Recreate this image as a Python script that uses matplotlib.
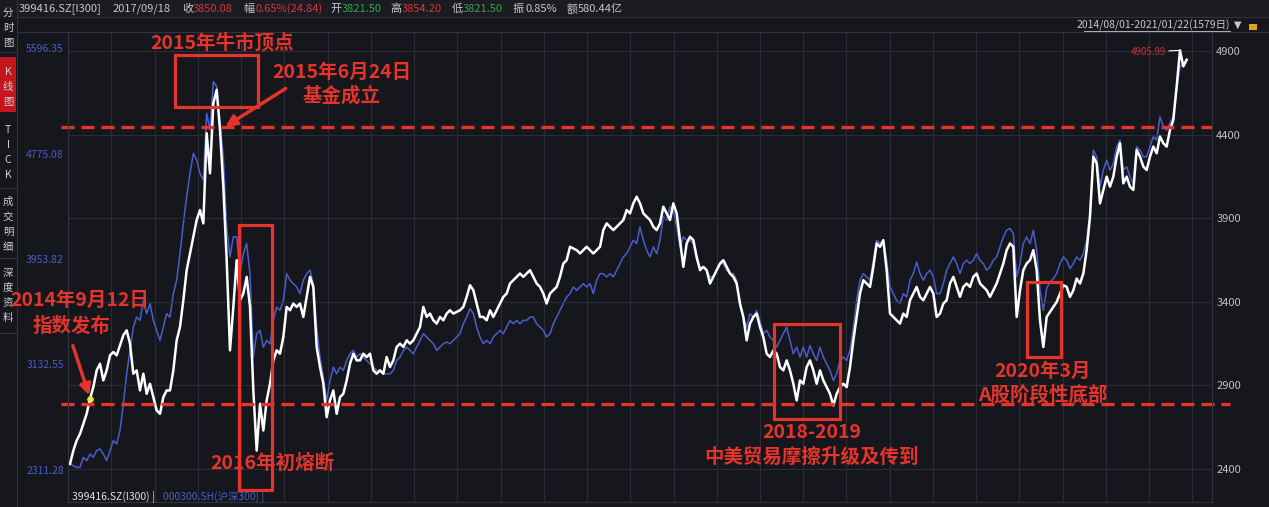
import numpy as np
import matplotlib
matplotlib.use("Agg")
import matplotlib.pyplot as plt
from matplotlib.patches import Rectangle, FancyArrowPatch

W, H = 1269, 507
BG = '#15171d'
GRID = '#2a2d35'
RED = '#e5342b'
BLUE = '#4a5dc8'
plt.rcParams['font.family'] = ['Noto Sans CJK SC', 'DejaVu Sans']

i300 = [
    2430, 2510, 2570, 2610, 2670, 2730, 2820, 2890, 2990, 3030,
    2930, 2990, 3080, 3100, 3080, 3140, 3200, 3230, 3150, 2970,
    2990, 2870, 2970, 2850, 2910, 2830, 2750, 2730, 2830, 2870,
    2870, 2990, 3170, 3250, 3410, 3590, 3690, 3790, 3890, 3950,
    3870, 4410, 4170, 4590, 4670, 4430, 4090, 3650, 3110, 3370,
    3650, 3410, 3450, 3550, 3370, 2870, 2510, 2790, 2630, 2810,
    2910, 3050, 3110, 3090, 3190, 3370, 3350, 3390, 3370, 3390,
    3310, 3430, 3550, 3490, 3130, 3010, 2910, 2710, 2810, 2870,
    2730, 2830, 2850, 2930, 3030, 3090, 3050, 3050,
    3090, 3070, 3090, 2990, 2970, 2990, 2970, 3070, 3010, 3050,
    3130, 3150, 3130, 3170, 3150, 3170, 3210, 3250, 3370, 3310,
    3330, 3290, 3270, 3310, 3290, 3330, 3350, 3330, 3340, 3350,
    3370, 3430, 3500, 3470, 3390, 3310, 3310, 3290, 3350, 3310,
    3350, 3390, 3430, 3450, 3510, 3530, 3550, 3570, 3550, 3570,
    3590, 3550, 3510, 3490, 3450, 3390, 3450, 3470, 3490, 3550,
    3630, 3650, 3730, 3720, 3710, 3690, 3710, 3730, 3710, 3690,
    3710, 3730, 3830, 3870, 3850, 3830, 3850, 3870, 3890, 3950,
    3930, 3990, 4030, 3990, 3930, 3910, 3890,
    3850, 3830, 3870, 3970, 3930, 3890, 3990, 3930, 3770, 3610,
    3750, 3790, 3770, 3670, 3590, 3610, 3590, 3510, 3550, 3590,
    3630, 3650, 3610, 3570, 3550, 3510, 3390, 3310, 3170, 3270,
    3310, 3330, 3250, 3190, 3090, 3070, 3110, 3090, 3010, 2990,
    3050, 2990, 2910, 2810, 2930, 2910, 3010, 3050, 2990, 2910,
    2990, 2930, 2890, 2850, 2780, 2850, 2890, 2910, 2890, 3010,
    3170, 3310, 3450, 3530, 3510, 3490, 3610, 3750, 3730, 3770,
    3590, 3330, 3310, 3290, 3270, 3330, 3310, 3410, 3450, 3490,
    3430, 3410, 3450, 3490, 3450, 3310, 3330,
    3390, 3410, 3510, 3550, 3490, 3430, 3490, 3510, 3490, 3550,
    3570, 3510, 3490, 3470, 3430, 3470, 3510, 3570, 3630, 3710,
    3750, 3730, 3310, 3470, 3590, 3630, 3650, 3710, 3590, 3290,
    3130, 3310, 3340, 3370, 3400, 3450, 3500, 3490, 3430, 3470,
    3540, 3510, 3570, 3710, 3910, 4270, 4230, 3990, 4070, 4150,
    4090, 4150, 4270, 4350, 4110, 4150, 4090, 4070, 4310, 4270,
    4210, 4190, 4270, 4330, 4290, 4390, 4350, 4330, 4430, 4490,
    4690, 4905.99, 4810, 4850,
]

# 000300.SH (沪深300) on the same dates, left scale
hs300 = [
    2358, 2345, 2332, 2332, 2410, 2384, 2436, 2410, 2462, 2475,
    2436, 2384, 2462, 2540, 2514, 2618, 2826, 3060, 3242, 3424,
    3502, 3476, 3632, 3528, 3606, 3476, 3398, 3320, 3424, 3528,
    3502, 3684, 3788, 3996, 4230, 4438, 4620, 4776, 4724, 4620,
    4568, 5088, 4958, 5335, 5296, 5010, 4750, 4204, 3970, 4126,
    4126, 3840, 3996, 4074, 3840, 3190, 3372, 3398, 3268, 3320,
    3294, 3476, 3580, 3554, 3632, 3840, 3788, 3762, 3736, 3684,
    3788, 3840, 3866, 3762, 3424, 3190, 3034, 2852, 3008, 3112,
    3060, 3112, 3086, 3164, 3216, 3242, 3190, 3216,
    3190, 3164, 3138, 3112, 3086, 3086, 3060, 3060, 3060, 3086,
    3164, 3190, 3242, 3268, 3242, 3216, 3268, 3320, 3372, 3346,
    3320, 3294, 3242, 3268, 3294, 3307, 3294, 3320, 3346, 3372,
    3450, 3502, 3567, 3528, 3424, 3346, 3294, 3320, 3294, 3346,
    3372, 3398, 3372, 3424, 3476, 3450, 3476, 3450, 3476, 3476,
    3502, 3502, 3450, 3424, 3398, 3346, 3372, 3450, 3502, 3554,
    3606, 3658, 3684, 3736, 3710, 3736, 3762, 3736, 3762, 3684,
    3788, 3840, 3840, 3814, 3840, 3814, 3866, 3918, 3970, 3996,
    4048, 4100, 4074, 4204, 4100, 4022, 3970,
    4048, 3996, 4100, 4282, 4256, 4360, 4334, 4204, 4048, 4126,
    4100, 4100, 4074, 3944, 3892, 3892, 3866, 3814, 3814, 3866,
    3918, 3918, 3866, 3840, 3840, 3788, 3580, 3502, 3424, 3528,
    3502, 3554, 3476, 3372, 3398, 3346, 3320, 3268, 3320, 3372,
    3424, 3320, 3216, 3268, 3190, 3268, 3190, 3281, 3216, 3164,
    3268, 3190, 3138, 3086, 3008, 3060, 3164, 3190, 3164, 3242,
    3424, 3632, 3788, 3840, 3814, 3788, 3944, 4100, 4074, 4100,
    3944, 3736, 3684, 3632, 3606, 3684, 3658, 3788, 3840, 3931,
    3840, 3788, 3840, 3866, 3814, 3684, 3684,
    3762, 3866, 3918, 3970, 3918, 3840, 3918, 3944, 3918, 3944,
    3996, 3944, 3918, 3866, 3892, 3944, 3970, 4048, 4126, 4178,
    4191, 4152, 3814, 3918, 4074, 4126, 4074, 4178, 4022, 3710,
    3554, 3723, 3775, 3801, 3840, 3918, 3970, 3944, 3879, 3918,
    3970, 3944, 3996, 4100, 4334, 4802, 4750, 4516, 4646, 4724,
    4646, 4698, 4828, 4880, 4646, 4672, 4594, 4542, 4828, 4802,
    4750, 4750, 4828, 4906, 4880, 5062, 4984, 4958, 5010, 5062,
    5270, 5452, 5478, 5504,
]

right_ticks = [4900, 4400, 3900, 3400, 2900, 2400]
left_ticks = [5596.35, 4775.08, 3953.82, 3132.55, 2311.28]
top_level = 4450      # fund launch level
bottom_level = 2790   # support level
start_mark = 6        # sample at 2014-09-12


def fx(x):
    return x / W


def fy(y):
    return 1 - y / H


fig = plt.figure(figsize=(W / 100, H / 100), dpi=100, facecolor=BG)

# header rows and side bar
fig.add_artist(Rectangle((0, fy(17)), 1, 17 / H, transform=fig.transFigure,
                         fc='#1a1c22', ec='none'))
for y in (17, 32):
    fig.add_artist(plt.Line2D([fx(17), 1], [fy(y), fy(y)], transform=fig.transFigure,
                              color='#30333b', lw=0.8))
fig.add_artist(plt.Line2D([fx(17), fx(17)], [0, 1], transform=fig.transFigure,
                          color='#30333b', lw=0.8))
fig.add_artist(Rectangle((0, fy(112)), 16 / W, 55 / H, transform=fig.transFigure,
                         fc='#c4161c', ec='none'))
side = [('分', 13), ('时', 28), ('图', 43), ('K', 72), ('线', 87), ('图', 102),
        ('T', 130), ('I', 145), ('C', 160), ('K', 175),
        ('成', 202), ('交', 217), ('明', 232), ('细', 247),
        ('深', 273), ('度', 288), ('资', 303), ('料', 318)]
for ch, y in side:
    fig.text(fx(8), fy(y), ch, color='#d0d0d0', fontsize=7.5, ha='center', va='center')
for y in (52, 188, 258, 333):
    fig.add_artist(plt.Line2D([0, fx(17)], [fy(y), fy(y)], transform=fig.transFigure,
                              color='#30333b', lw=0.8))

head = [(19, '399416.SZ[I300]', '#c8c8c8'), (113, '2017/09/18', '#c8c8c8'),
        (182, '收', '#c8c8c8'), (193, '3850.08', '#d9343c'),
        (243, '幅', '#c8c8c8'), (255, '0.65%(24.84)', '#d9343c'),
        (330, '开', '#c8c8c8'), (342, '3821.50', '#2ea44f'),
        (390, '高', '#c8c8c8'), (402, '3854.20', '#d9343c'),
        (452, '低', '#c8c8c8'), (463, '3821.50', '#2ea44f'),
        (513, '振', '#c8c8c8'), (525, '0.85%', '#c8c8c8'),
        (567, '额', '#c8c8c8'), (578, '580.44亿', '#c8c8c8')]
for x, s, c in head:
    fig.text(fx(x), fy(9), s, color=c, fontsize=8, ha='left', va='center')

fig.text(fx(1230), fy(25), '2014/08/01-2021/01/22(1579日)', color='#c8c8c8',
         fontsize=7.5, ha='right', va='center')
fig.add_artist(plt.Line2D([fx(1084), fx(1230)], [fy(31), fy(31)], transform=fig.transFigure,
                          color='#c8c8c8', lw=0.6))
fig.text(fx(1238), fy(25), '▼', color='#c8c8c8', fontsize=7, ha='center', va='center',
         family='DejaVu Sans')
fig.add_artist(Rectangle((fx(1249), fy(30)), 8 / W, 6 / H, transform=fig.transFigure,
                         fc='#e3a21a', ec='none'))

# main panel
ax = fig.add_axes([fx(68), fy(502), (1212 - 68) / W, (502 - 32) / H])
ax.set_facecolor(BG)
ax2 = ax.twinx()

t = np.arange(len(i300))
ax.plot(t, hs300, color=BLUE, lw=1.1)
ax2.plot(t, i300, color='white', lw=1.8)
ax2.scatter([t[start_mark]], [i300[start_mark]], s=14, color='#f2e14a', zorder=5)

ax.set_xlim(-0.6, 342.6)
ax.set_ylim(2062, 5721)
ax2.set_ylim(2202, 5016)

ax.set_xticks(-0.6 + 12.975 * np.arange(27))
ax.tick_params(axis='x', length=0, labelbottom=False)
ax.grid(axis='x', color=GRID, lw=0.8)
ax.set_yticks(left_ticks)
ax.set_yticklabels(['%.2f' % v for v in left_ticks])
ax.tick_params(axis='y', length=0, pad=3, labelsize=7.5, labelcolor=BLUE)
ax2.set_yticks(right_ticks)
ax2.tick_params(axis='y', length=0, pad=3, labelsize=8, labelcolor='#c0c0c0')
ax2.grid(axis='y', color=GRID, lw=0.8)
for a in (ax, ax2):
    for s in a.spines.values():
        s.set_color('#30333b')

ax2.axhline(top_level, xmin=-0.006, xmax=1.0, color=RED, lw=2.4, dashes=(3.9, 2.1),
            clip_on=False)
ax2.axhline(bottom_level, xmin=-0.006, xmax=1.016, color=RED, lw=2.4, dashes=(3.9, 2.1),
            clip_on=False)

imax = int(np.argmax(i300))
ax2.annotate('%.2f' % i300[imax], xy=(imax, i300[imax]), xytext=(-10, -1),
             textcoords='offset points', color='#c8303a', fontsize=7, ha='right',
             va='center', arrowprops=dict(arrowstyle='-', color='white', lw=0.8,
                                          shrinkA=0, shrinkB=0))

fig.text(fx(72), fy(497), '399416.SZ(I300) |', color='#e0e0e0', fontsize=7.5, va='center')
fig.text(fx(163), fy(497), '000300.SH(沪深300) |', color=BLUE, fontsize=7.5, va='center')

# annotations
boxes = [(175, 55, 258, 107), (239, 225, 272, 490), (774, 324, 840, 419),
         (1027, 282, 1061, 357)]
for x0, y0, x1, y1 in boxes:
    fig.add_artist(Rectangle((fx(x0), fy(y1)), (x1 - x0) / W, (y1 - y0) / H,
                             transform=fig.transFigure, fill=False, ec=RED, lw=2.3))
notes = [(222, 43, '2015年牛市顶点'), (342, 72, '2015年6月24日'), (342, 96, '基金成立'),
         (80, 300, '2014年9月12日'), (72, 326, '指数发布'), (272, 463, '2016年初熔断'),
         (812, 433, '2018-2019'), (812, 457, '中美贸易摩擦升级及传到'),
         (1043, 371, '2020年3月'), (1043, 395, 'A股阶段性底部')]
for x, y, s in notes:
    fig.text(fx(x), fy(y), s, color=RED, fontsize=14, fontweight='bold',
             ha='center', va='center')
for (xa, ya), (xb, yb) in [((288, 87), (223, 128)), ((72, 343), (90, 398))]:
    fig.add_artist(FancyArrowPatch((fx(xa), fy(ya)), (fx(xb), fy(yb)),
                                   transform=fig.transFigure, arrowstyle='-|>',
                                   mutation_scale=16, lw=2.5, color=RED))

fig.savefig('out.png', dpi=100, facecolor=BG)
